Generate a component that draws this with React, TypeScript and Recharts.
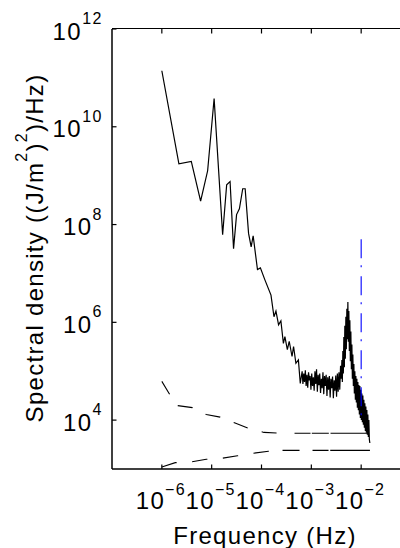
import React from "react";
import { LineChart, Line, XAxis, YAxis } from "recharts";

// spectrum (Hz, (J/m^2)^2/Hz)
const trendFreq = [
  1.0e-6, 2.2e-6, 3.9e-6, 6.0e-6, 8.3e-6, 1.12e-5, 1.66e-5, 2.0e-5, 2.34e-5, 2.75e-5,
  3.16e-5, 3.6e-5, 4.2e-5, 4.7e-5, 5.5e-5, 6.2e-5, 6.8e-5, 8.3e-5, 9.5e-5, 1.17e-4,
  1.55e-4, 1.78e-4, 1.95e-4, 2.2e-4, 2.45e-4, 2.75e-4, 2.95e-4, 3.3e-4, 3.6e-4, 4.1e-4,
  4.4e-4, 4.9e-4, 5.5e-4, 6.0e-4,
];
const trendPsd = [
  1.4e11, 1.74e9, 1.95e9, 3.0e8, 1.26e9, 3.8e10, 6.2e7, 6.5e8, 7.6e8, 3.2e7,
  1.6e8, 2.1e8, 5.4e8, 5.4e8, 6.6e7, 3.5e7, 5.9e7, 1.2e7, 1.3e7, 7.4e6,
  3.6e6, 1.3e6, 1.7e6, 8.9e5, 1.07e6, 3.7e5, 5.1e5, 2.75e5, 4.1e5, 2.0e5,
  3.2e5, 1.45e5, 1.7e5, 5.6e4,
];

const plateauFreq = [
  6.54e-4, 6.78e-4, 7.04e-4, 7.30e-4, 7.58e-4, 7.86e-4, 8.16e-4, 8.47e-4, 8.79e-4, 9.12e-4,
  9.46e-4, 9.82e-4, 1.019e-3, 1.057e-3, 1.097e-3, 1.139e-3, 1.182e-3, 1.226e-3, 1.272e-3, 1.320e-3,
  1.370e-3, 1.422e-3, 1.475e-3, 1.531e-3, 1.589e-3, 1.649e-3, 1.711e-3, 1.775e-3, 1.842e-3, 1.911e-3,
  1.983e-3, 2.058e-3, 2.136e-3, 2.216e-3, 2.300e-3, 2.387e-3, 2.477e-3, 2.570e-3, 2.667e-3, 2.767e-3,
  2.871e-3, 2.980e-3, 3.092e-3, 3.208e-3, 3.329e-3, 3.455e-3, 3.585e-3, 3.720e-3, 3.860e-3, 4.006e-3,
];
const plateauPsd = [
  1.0e5, 5.5e4, 9.0e4, 6.0e4, 1.05e5, 5.0e4, 8.5e4, 4.6e4, 9.5e4, 6.5e4,
  8.0e4, 4.2e4, 9.0e4, 5.0e4, 7.5e4, 4.0e4, 1.0e5, 5.5e4, 1.1e5, 3.8e4,
  8.5e4, 5.2e4, 9.0e4, 3.6e4, 7.0e4, 4.5e4, 9.5e4, 3.4e4, 8.0e4, 5.0e4,
  8.5e4, 3.1e4, 7.5e4, 4.2e4, 8.0e4, 2.9e4, 7.0e4, 4.5e4, 7.8e4, 2.8e4,
  6.5e4, 4.0e4, 8.2e4, 3.0e4, 9.0e4, 3.8e4, 9.5e4, 4.2e4, 1.3e5, 7.0e4,
];

const peakFreq = [
  4.10e-3, 4.19e-3, 4.29e-3, 4.39e-3, 4.49e-3, 4.60e-3, 4.70e-3, 4.81e-3, 4.93e-3, 5.04e-3,
  5.16e-3, 5.28e-3, 5.41e-3, 5.53e-3, 5.66e-3, 5.79e-3, 5.93e-3, 6.07e-3, 6.21e-3, 6.36e-3,
  6.51e-3, 6.66e-3, 6.81e-3, 6.97e-3, 7.14e-3, 7.30e-3, 7.47e-3, 7.65e-3, 7.83e-3, 8.01e-3,
  8.20e-3, 8.39e-3, 8.59e-3, 8.79e-3, 8.99e-3, 9.20e-3, 9.42e-3, 9.64e-3, 9.86e-3, 1.009e-2,
  1.033e-2, 1.057e-2, 1.082e-2, 1.107e-2, 1.133e-2, 1.159e-2, 1.186e-2, 1.214e-2, 1.242e-2, 1.271e-2,
  1.301e-2, 1.331e-2, 1.362e-2, 1.394e-2, 1.427e-2, 1.460e-2, 1.494e-2,
];
const peakPsd = [
  1.7e5, 6.0e4, 2.6e5, 9.0e4, 5.0e5, 1.2e5, 8.5e5, 1.8e5, 1.3e6, 2.8e5,
  1.9e6, 4.5e5, 2.6e6, 4.0e5, 1.7e6, 2.6e5, 1.1e6, 1.6e5, 6.5e5, 1.1e5,
  3.5e5, 7.0e4, 2.2e5, 5.0e4, 1.4e5, 3.5e4, 1.0e5, 2.6e4, 8.0e4, 2.3e4,
  7.0e4, 1.8e4, 6.0e4, 1.6e4, 5.2e4, 1.3e4, 5.0e4, 1.1e4, 4.2e4, 1.0e4,
  3.5e4, 9.0e3, 3.2e4, 8.0e3, 2.6e4, 7.0e3, 2.2e4, 6.0e3, 1.9e4, 5.5e3,
  1.6e4, 5.0e3, 1.3e4, 4.5e3, 1.0e4, 4.0e3, 3.4e3,
];

// confidence bounds
const upperFreq = [1.0e-6, 1.95e-6, 4.1e-6, 7.8e-6, 1.48e-5, 2.95e-5, 5.5e-5, 1.12e-4, 2.3e-4, 1.4e-2];
const upperPsd = [6.2e4, 2.0e4, 1.8e4, 1.3e4, 1.15e4, 8.7e3, 6.8e3, 5.6e3, 5.4e3, 5.4e3];
const lowerFreq = [1.0e-6, 1.86e-6, 3.7e-6, 7.8e-6, 1.6e-5, 3.3e-5, 6.9e-5, 1.38e-4, 2.3e-4, 1.5e-2];
const lowerPsd = [1.1e3, 1.35e3, 1.38e3, 1.58e3, 1.66e3, 1.86e3, 2.1e3, 2.3e3, 2.4e3, 2.4e3];

// vertical marker
const markerFreq = [1.0e-2, 1.0e-2];
const markerPsd = [5.0e7, 1.0e4];

const xTicks = [1e-6, 1e-5, 1e-4, 1e-3, 1e-2];
const yTicks = [1e4, 1e6, 1e8, 1e10, 1e12];
const X_DOMAIN = [1e-7, 1e-1];
const Y_DOMAIN = [1e3, 1e12];

const zip = (f: number[], s: number[]) => f.map((v, i) => ({ f: v, s: s[i] }));

const spectrum = [
  ...zip(trendFreq, trendPsd),
  ...zip(plateauFreq, plateauPsd),
  ...zip(peakFreq, peakPsd),
];
const upper = zip(upperFreq, upperPsd);
const lower = zip(lowerFreq, lowerPsd);
const BREAK = 2.3e-4;
const marker = zip(markerFreq, markerPsd);

const FONT = '"Liberation Sans", Arial, Helvetica, sans-serif';
const MARGIN = { top: 29, right: 9, bottom: 0, left: 12 };
const Y_AXIS_W = 100;
const PLOT_H = 440; // px between bottom axis and top edge of the box

// bottom ticks also draw the mirrored inward tick on the top edge of the box
function XTick(props: any) {
  const { x, y, payload } = props;
  const e = Math.round(Math.log10(payload.value));
  const top = y - PLOT_H;
  return (
    <g>
      <line x1={x} y1={y} x2={x} y2={y - 4.5} stroke="#000" strokeWidth={1.2} />
      <line x1={x} y1={top} x2={x} y2={top + 4.5} stroke="#000" strokeWidth={1.2} />
      <text x={x - 1} y={y + 39.5} textAnchor="middle" fontFamily={FONT} fontSize={24} letterSpacing={1.3} fill="#000">
        10<tspan fontSize={16} dy={-14}>{`\u2212${-e}`}</tspan>
      </text>
    </g>
  );
}

function YTick(props: any) {
  const { x, y, payload } = props;
  const e = Math.round(Math.log10(payload.value));
  return (
    <g>
      <line x1={x} y1={y} x2={x + 4.5} y2={y} stroke="#000" strokeWidth={1.2} />
      <text x={x - 9} y={y + 10.5} textAnchor="end" fontFamily={FONT} fontSize={24} letterSpacing={1.5} fill="#000">
        10<tspan fontSize={16} dy={-15.5}>{e}</tspan>
      </text>
    </g>
  );
}

const xTitle = () => (
  <text x={265} y={543.5} textAnchor="middle" fontFamily={FONT} fontSize={24} letterSpacing={1.3} fill="#000">
    Frequency (Hz)
  </text>
);

const yTitle = () => (
  <text transform="rotate(-90)" x={-248} y={43} textAnchor="middle" fontFamily={FONT} fontSize={24} letterSpacing={1.3} fill="#000">
    Spectral density ((J/m<tspan fontSize={16} dy={-16}>2</tspan>
    <tspan dy={16}>)</tspan>
    <tspan fontSize={16} dy={-16}>2</tspan>
    <tspan dy={16}>)/Hz)</tspan>
  </text>
);

const axisLine = { stroke: "#000", strokeWidth: 1.5 };

export default function App() {
  return (
    <div style={{ position: "absolute", left: 0, top: 0, width: 400, height: 548, overflow: "hidden", background: "#fff" }}>
      <LineChart width={420} height={548} margin={MARGIN}>
        <XAxis
          dataKey="f" type="number" scale="log" domain={X_DOMAIN} allowDataOverflow
          ticks={xTicks} interval={0} tickSize={0} tickMargin={0} tickLine={false}
          tick={<XTick />} axisLine={axisLine} height={79} label={{ content: xTitle }}
        />
        <YAxis
          type="number" scale="log" domain={Y_DOMAIN} allowDataOverflow
          ticks={yTicks} interval={0} tickSize={0} tickMargin={0} tickLine={false}
          tick={<YTick />} axisLine={axisLine} width={Y_AXIS_W} label={{ content: yTitle }}
        />
        <Line data={upper.filter((p) => p.f <= BREAK)} dataKey="s" stroke="#000" strokeWidth={1.1}
          strokeDasharray="15 14.5" dot={false} activeDot={false} isAnimationActive={false} />
        <Line data={upper.filter((p) => p.f >= BREAK)} dataKey="s" stroke="#000" strokeWidth={1.1}
          strokeDasharray="0 15 16 1.3 17 1.7 200" dot={false} activeDot={false} isAnimationActive={false} />
        <Line data={lower.filter((p) => p.f <= BREAK)} dataKey="s" stroke="#000" strokeWidth={1.1}
          strokeDasharray="15.5 15.5" dot={false} activeDot={false} isAnimationActive={false} />
        <Line data={lower.filter((p) => p.f >= BREAK)} dataKey="s" stroke="#000" strokeWidth={1.1}
          strokeDasharray="0 3 17 13 16 1.7 200" dot={false} activeDot={false} isAnimationActive={false} />
        <Line data={spectrum} dataKey="s" stroke="#000" strokeWidth={1.2}
          dot={false} activeDot={false} isAnimationActive={false} />
        <Line data={marker} dataKey="s" stroke="#0000ff" strokeWidth={1.1}
          strokeDasharray="19 7 2 9" dot={false} activeDot={false} isAnimationActive={false} />
      </LineChart>
      {/* top edge of the axes box */}
      <div
        style={{
          position: "absolute",
          left: MARGIN.left + Y_AXIS_W,
          top: MARGIN.top - 0.75,
          width: 400,
          height: 0,
          borderTop: "1.5px solid #000",
        }}
      />
    </div>
  );
}
